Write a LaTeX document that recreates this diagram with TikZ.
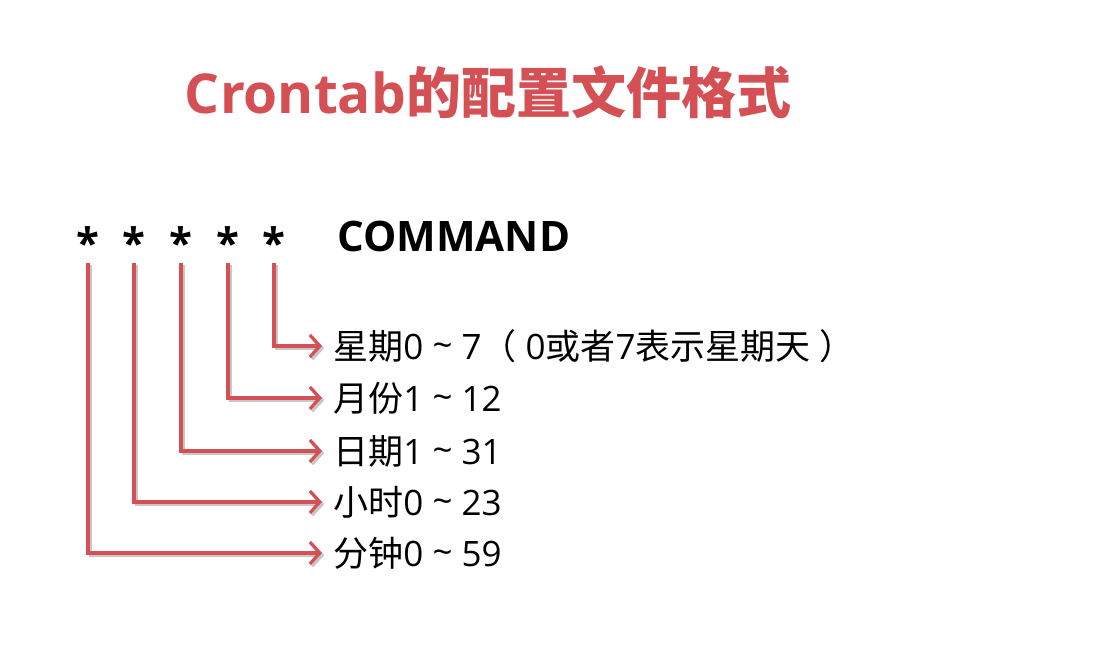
\documentclass[tikz,border=0pt]{standalone}
\usepackage{fontspec}
\setmainfont{Open Sans}
\newfontfamily\cjk{Noto Sans CJK SC}
\usetikzlibrary{arrows.meta}
\definecolor{crred}{RGB}{212,80,84}
\begin{document}
\begin{tikzpicture}[x=0.5pt, y=-0.5pt, every node/.style={inner sep=0pt}, star/.style={font=\fontsize{21}{24}\selectfont\bfseries}, lbl/.style={anchor=west, inner xsep=5.5pt, font=\fontsize{17.5}{20}\selectfont}, link/.style={draw=crred, line width=1.6pt, -{Straight Barb[length=5pt, width=11pt, line width=1.6pt]}}, shade/.style={link, draw=black!22}]
	\useasboundingbox (0,0) rectangle (1094,664);
	\node[font=\fontsize{27.5}{32}\selectfont\bfseries, text=crred] (title) at (488,92) {Crontab{\cjk 的配置文件格式}};
	\foreach \i/\x in {1/88, 2/134, 3/181, 4/228, 5/274} {\node[star] (s\i) at (\x,243) {*}; \coordinate (c\i) at (\x,263);}
	\node[star, anchor=west] (cmd) at (337,236) {COMMAND};
	\node[lbl] (l5) at (322,346) {{\cjk 星期}0 \raisebox{1pt}{\char"007E} 7{\cjk （} 0{\cjk 或者}7{\cjk 表示星期天} {\cjk ）}};
	\node[lbl] (l4) at (322,398) {{\cjk 月份}1 \raisebox{1pt}{\char"007E} 12};
	\node[lbl] (l3) at (322,451) {{\cjk 日期}1 \raisebox{1pt}{\char"007E} 31};
	\node[lbl] (l2) at (322,502) {{\cjk 小时}0 \raisebox{1pt}{\char"007E} 23};
	\node[lbl] (l1) at (322,553) {{\cjk 分钟}0 \raisebox{1pt}{\char"007E} 59};
	% soft shadow under the red links
	\begin{scope}[transform canvas={shift={(1.1pt,-1.1pt)}}]
		\foreach \i in {1,...,5} {\draw[shade] (c\i) |- (l\i.west);}
	\end{scope}
	\foreach \i in {1,...,5} {\draw[link] (c\i) |- (l\i.west);}
\end{tikzpicture}
\end{document}
